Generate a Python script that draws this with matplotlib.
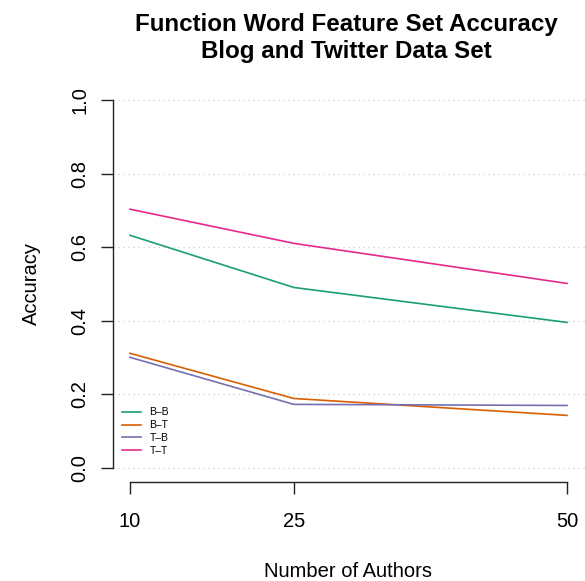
import matplotlib
matplotlib.use("Agg")
import matplotlib.pyplot as plt

authors = [10, 25, 50]
series_names = ["B\u2013B", "B\u2013T", "T\u2013B", "T\u2013T"]
bb = [0.632, 0.490, 0.395]
bt = [0.311, 0.188, 0.142]
tb = [0.300, 0.172, 0.169]
tt = [0.703, 0.610, 0.501]
colors = ["#1B9E77", "#D95F02", "#7570B3", "#E7298A"]
yticks = [0.0, 0.2, 0.4, 0.6, 0.8, 1.0]
ytick_labels = ["0.0", "0.2", "0.4", "0.6", "0.8", "1.0"]

plt.rcParams['font.family'] = ['Liberation Sans', 'DejaVu Sans']

W, H = 585, 581
dpi = 100
fig = plt.figure(figsize=(W / dpi, H / dpi), dpi=dpi)
left, right, bottom, top = 112.5, 584.5, 482.3, 85.3
ax = fig.add_axes([left / W, 1 - bottom / H, (right - left) / W, (bottom - top) / H])

ax.set_xlim(10 - 0.04 * 40, 50 + 0.04 * 40)
ax.set_ylim(-0.04, 1.04)

for yv in yticks:
    ax.axhline(yv, color="#cccccc", linestyle=(0, (1, 3)), linewidth=0.9, zorder=0)

for vals, name, c in zip([bb, bt, tb, tt], series_names, colors):
    ax.plot(authors, vals, color=c, linewidth=1.2, label=name, zorder=3)

for s in ["top", "right"]:
    ax.spines[s].set_visible(False)
ax.spines["left"].set_bounds(0, 1)
ax.spines["bottom"].set_bounds(10, 50)
for s in ["left", "bottom"]:
    ax.spines[s].set_linewidth(1.0)
    ax.spines[s].set_color("#222222")

ax.set_xticks(authors)
ax.set_xticklabels([str(a) for a in authors])
ax.set_yticks(yticks)
ax.set_yticklabels(ytick_labels, rotation=90, va="center")
ax.tick_params(axis="both", direction="out", length=8.6, width=1.0, color="#222222", labelsize=14.5)
ax.tick_params(axis="x", pad=13)
ax.tick_params(axis="y", pad=8)

ax.set_xlabel("Number of Authors", fontsize=14.5, labelpad=22)
ax.set_ylabel("Accuracy", fontsize=14.5, labelpad=21)

fig.suptitle("Function Word Feature Set Accuracy\nBlog and Twitter Data Set",
             x=346 / W, y=1 - 13 / H, fontsize=17.4, fontweight="bold", va="top", linespacing=1.22)

leg = ax.legend(loc="lower left", bbox_to_anchor=((122 - left) / (right - left), (bottom - 456) / (bottom - top)),
                frameon=False, fontsize=7.5, handlelength=1.8, handletextpad=0.85,
                labelspacing=0.28, borderpad=0.0, borderaxespad=0.0)

fig.savefig("out.png", dpi=dpi)
